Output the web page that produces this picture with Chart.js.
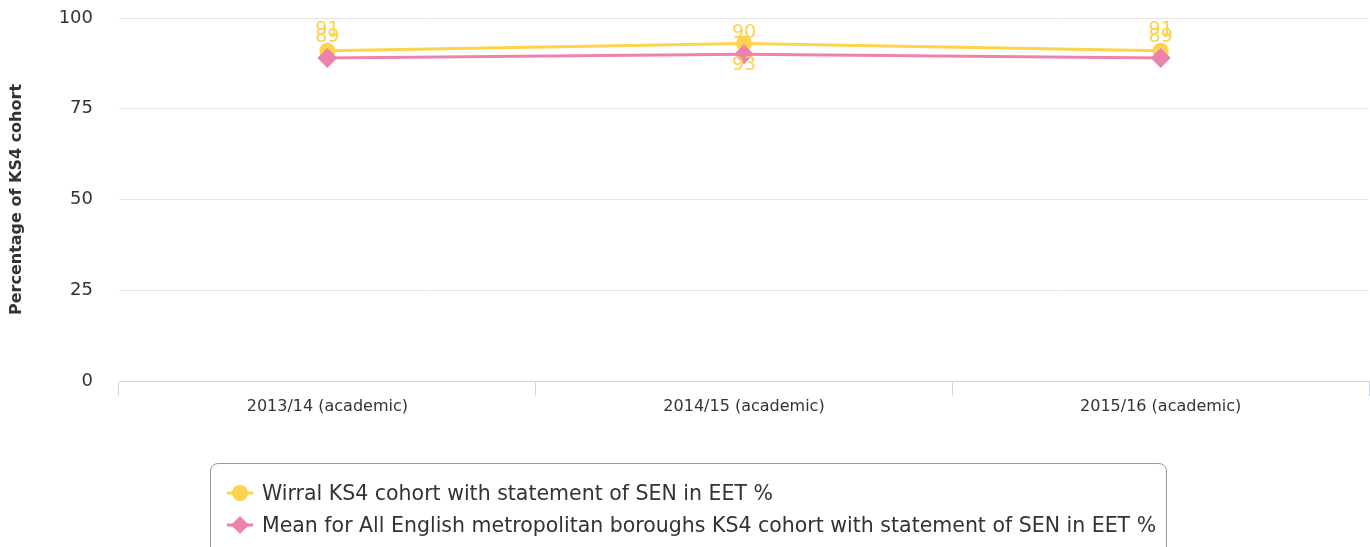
<!DOCTYPE html>
<html>
<head>
<meta charset="utf-8">
<script src="https://cdn.jsdelivr.net/npm/chart.js@4/dist/chart.umd.min.js"></script>
<style>
  html, body { margin: 0; padding: 0; background: #fff; }
  #wrap { position: relative; width: 1370px; height: 547px; overflow: hidden; }
  #legend {
    position: absolute; left: 210px; top: 463px; width: 957px; height: 95px;
    border: 1px solid #999; border-radius: 8px; box-sizing: border-box;
    font-family: "DejaVu Sans", sans-serif; font-size: 20.5px; color: #333;
  }
  .item { position: absolute; left: 14px; height: 24px; display: flex; align-items: center; white-space: nowrap; }
  .item canvas { margin-right: 7px; }
</style>
</head>
<body>
<div id="wrap">
  <canvas id="chart"></canvas>
  <div id="legend"></div>
</div>
<script>
// Chart data
const categories = ['2013/14 (academic)', '2014/15 (academic)', '2015/16 (academic)'];
const wirralValues = [91, 93, 91];
const meanValues = [89, 90, 89];
const yTicks = [0, 25, 50, 75, 100];

const wirralLabel = 'Wirral KS4 cohort with statement of SEN in EET %';
const meanLabel = 'Mean for All English metropolitan boroughs KS4 cohort with statement of SEN in EET %';

const yellow = '#fdd24c';
const pink = '#ee82af';
const font = '"DejaVu Sans", sans-serif';

// Draw value labels above (or below) each point
const valueLabels = {
    id: 'valueLabels',
    afterDatasetsDraw(chart) {
        const ctx = chart.ctx;
        ctx.save();
        ctx.font = '19px ' + font;
        ctx.fillStyle = yellow;
        ctx.textAlign = 'center';
        ctx.textBaseline = 'middle';
        chart.data.datasets.forEach((ds, di) => {
            const meta = chart.getDatasetMeta(di);
            meta.data.forEach((pt, i) => {
                const below = ds.labelBelow && ds.labelBelow[i];
                ctx.fillText(ds.data[i], pt.x, pt.y + (below ? 22 : -21));
            });
        });
        ctx.restore();
    }
};

const chart = new Chart(document.getElementById('chart'), {
    type: 'line',
    data: {
        labels: categories,
        datasets: [{
            label: wirralLabel,
            data: wirralValues,
            borderColor: yellow,
            backgroundColor: yellow,
            pointStyle: 'circle',
            pointRadius: 8,
            pointBorderWidth: 0,
            borderWidth: 3,
            tension: 0,
            order: 1,
            labelBelow: [false, true, false]
        }, {
            label: meanLabel,
            data: meanValues,
            borderColor: pink,
            backgroundColor: pink,
            pointStyle: 'rectRot',
            pointRadius: 10,
            pointBorderWidth: 0,
            borderWidth: 3,
            tension: 0,
            order: 0
        }]
    },
    options: {
        responsive: true,
        maintainAspectRatio: false,
        devicePixelRatio: 1,
        animation: false,
        layout: { autoPadding: false, padding: { top: 18, right: 1, bottom: 121, left: 0 } },
        plugins: {
            legend: { display: false },
            tooltip: { enabled: false }
        },
        scales: {
            x: {
                offset: true,
                grid: {
                    offset: true,
                    drawOnChartArea: false,
                    drawTicks: true,
                    tickLength: 15,
                    color: '#ccd6eb'
                },
                border: { color: '#ccd6eb', width: 1 },
                ticks: { color: '#333', font: { family: font, size: 16 }, padding: 1, maxRotation: 0 },
                afterFit(scale) {
                    scale.height = 45;
                    scale.paddingLeft = 0;
                    scale.paddingRight = 0;
                }
            },
            y: {
                min: 0,
                max: 100,
                afterBuildTicks(scale) { scale.ticks = yTicks.map(v => ({ value: v })); },
                grid: { color: '#e6e6e6', drawTicks: false },
                border: { display: false },
                ticks: { color: '#333', font: { family: font, size: 18 }, padding: 26 },
                title: {
                    display: true,
                    text: 'Percentage of KS4 cohort',
                    color: '#333',
                    font: { family: font, size: 16, weight: 'bold' },
                    padding: { top: 7, bottom: 0 }
                },
                afterFit(scale) {
                    scale.width = 119;
                    scale.paddingTop = 0;
                    scale.paddingBottom = 0;
                }
            }
        }
    },
    plugins: [valueLabels]
});

// HTML legend built from the datasets
function buildLegend() {
    const legend = document.getElementById('legend');
    chart.data.datasets.forEach((ds, i) => {
        const item = document.createElement('div');
        item.className = 'item';
        item.style.top = (17 + i * 32) + 'px';
        const c = document.createElement('canvas');
        c.width = 30; c.height = 24;
        const ctx = c.getContext('2d');
        ctx.strokeStyle = ds.borderColor;
        ctx.lineWidth = 3;
        ctx.beginPath();
        ctx.moveTo(2, 12);
        ctx.lineTo(28, 12);
        ctx.stroke();
        ctx.fillStyle = ds.backgroundColor;
        Chart.helpers.drawPoint(ctx, {
            pointStyle: ds.pointStyle,
            radius: ds.pointStyle === 'circle' ? 8 : 9,
            borderWidth: 0,
            rotation: 0
        }, 15, 12);
        const span = document.createElement('span');
        span.textContent = ds.label;
        item.appendChild(c);
        item.appendChild(span);
        legend.appendChild(item);
    });
}
buildLegend();
</script>
</body>
</html>
